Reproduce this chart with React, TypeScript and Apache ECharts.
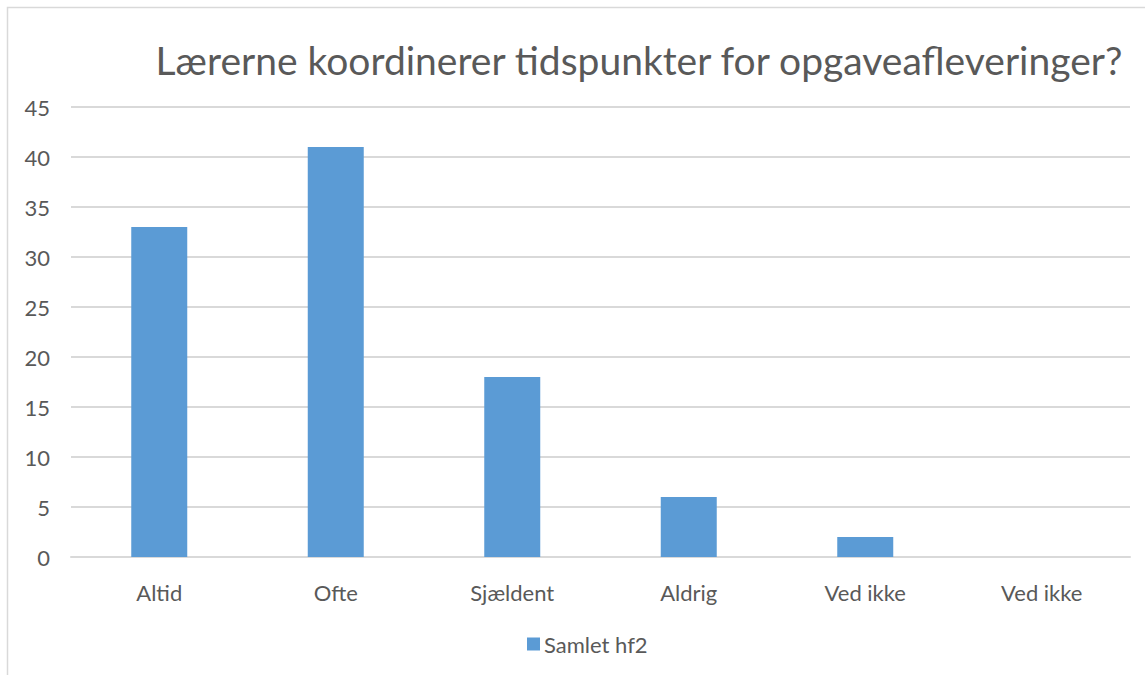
import React, { useEffect, useRef } from "react";
import * as echarts from "echarts";

const titleText = "Lærerne koordinerer tidspunkter for opgaveafleveringer?";
const categories = ["Altid", "Ofte", "Sjældent", "Aldrig", "Ved ikke", "Ved ikke"];
const seriesName = "Samlet hf2";
const values = [33, 41, 18, 6, 2, 0];

export default function App() {
  const ref = useRef<HTMLDivElement>(null);
  useEffect(() => {
    if (!ref.current) return;
    const chart = echarts.init(ref.current, null, { renderer: "svg" });
    const font = "Lato, 'Noto Sans', sans-serif";
    chart.setOption({
      animation: false,
      backgroundColor: "#ffffff",
      textStyle: { fontFamily: font },
      title: {
        text: titleText,
        left: 634,
        top: 35,
        textAlign: "center",
        textStyle: { fontFamily: font, fontSize: 39, fontWeight: "normal", color: "#595959" },
      },
      legend: {
        data: [seriesName],
        left: 522,
        top: 628,
        icon: "rect",
        itemWidth: 13,
        itemHeight: 13,
        itemGap: 6,
        textStyle: { fontFamily: font, fontSize: 22, color: "#595959", padding: [0, 0, 0, -1] },
      },
      grid: { left: 71, right: 15, top: 107, bottom: 118, containLabel: false },
      xAxis: {
        type: "category",
        data: categories,
        axisLine: { show: true, lineStyle: { color: "#d9d9d9", width: 2 } },
        axisTick: { show: false },
        axisLabel: { fontFamily: font, fontSize: 22, color: "#595959", margin: 24, interval: 0 },
      },
      yAxis: {
        type: "value",
        min: 0,
        max: 45,
        interval: 5,
        axisLine: { show: false },
        axisTick: { show: false },
        splitLine: { lineStyle: { color: "#d9d9d9", width: 2 } },
        axisLabel: { fontFamily: font, fontSize: 22, color: "#595959", margin: 21 },
      },
      graphic: [
        {
          type: "rect",
          shape: { x: 7.5, y: 7.5, width: 1200, height: 700 },
          style: { fill: "none", stroke: "#d9d9d9", lineWidth: 1.5 },
          silent: true,
        },
      ],
      series: [
        {
          name: seriesName,
          type: "bar",
          data: values,
          barWidth: 56,
          itemStyle: { color: "#5b9bd5" },
        },
      ],
    });
    return () => chart.dispose();
  }, []);
  return (
    <div
      ref={ref}
      style={{ position: "absolute", left: 0, top: 0, width: 1145, height: 675, overflow: "hidden" }}
    />
  );
}
